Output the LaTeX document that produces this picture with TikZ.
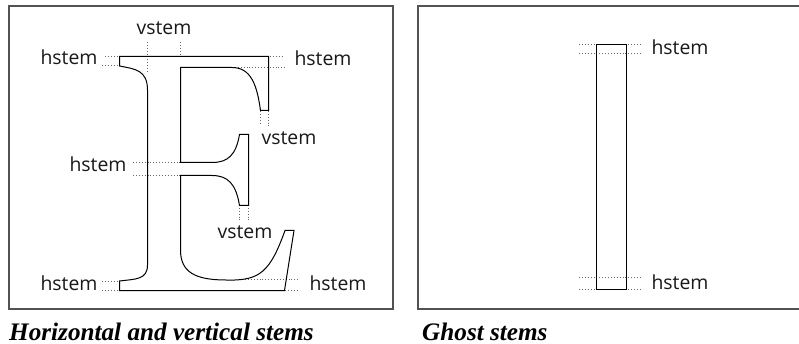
\documentclass[tikz,border=0pt]{standalone}
\usepackage{fontspec}
\setmainfont{Liberation Serif}
\newfontfamily\lblfont{Open Sans}
\begin{document}
\begin{tikzpicture}[x=1pt,y=-1pt,
  frame/.style={draw=black!68,line width=1.3pt},
  glyph/.style={draw=black,line width=1pt,line join=miter},
  guide/.style={draw=black!60,line width=0.55pt,dash pattern=on 0.9pt off 2pt},
  lbl/.style={font=\lblfont\fontsize{19.4}{22}\selectfont,text=black!90,inner sep=0pt,anchor=base},
  captext/.style={font=\bfseries\itshape\fontsize{25.2}{28}\selectfont,text=black,inner sep=0pt,anchor=base west}]
\useasboundingbox (0,0) rectangle (799,344);
\fill[white] (0,0) rectangle (799,344);
\draw[frame] (9,6) rectangle (393,309);
\draw[frame] (799,6) -- (418,6) -- (418,309) -- (799,309);
% guides, left panel
\draw[guide] (105,56) -- (119,56);
\draw[guide] (102,65) -- (119,65);
\draw[guide] (147.5,42) -- (147.5,73);
\draw[guide] (180.5,42) -- (180.5,56);
\draw[guide] (270,56) -- (283,56);
\draw[guide] (232,67) -- (285,67);
\draw[guide] (260.5,111) -- (260.5,124);
\draw[guide] (268.5,111) -- (268.5,127);
\draw[guide] (133,162.5) -- (181,162.5);
\draw[guide] (133,175) -- (181,175);
\draw[guide] (239.5,205) -- (239.5,222);
\draw[guide] (248.5,205) -- (248.5,222);
\draw[guide] (102,281) -- (119,281);
\draw[guide] (102,290) -- (119,290);
\draw[guide] (245,279) -- (300,279);
\draw[guide] (285,290.5) -- (298,290.5);
% E glyph
\draw[glyph] (119.5,56.5) -- (268.5,56.5) -- (268.5,110.5) -- (260.5,110.5)
  .. controls (257,85) and (251,67.5) .. (232,67.5) -- (180.5,67.5) -- (180.5,162.5)
  -- (212,162.5) .. controls (228,162.5) and (236,155) .. (239.5,134.5) -- (248.5,134.5) -- (248.5,205.5) -- (239.5,205.5)
  .. controls (236,184) and (228,175.5) .. (212,175.5) -- (180.5,175.5) -- (180.5,250)
  .. controls (180.5,272) and (195,280) .. (226,280)
  .. controls (260,281) and (270,272) .. (285,230.5) -- (294,230.5) -- (284.5,290.5) -- (119.5,290.5) -- (119.5,281)
  .. controls (135,279) and (147.5,280) .. (147.5,265) -- (147.5,90)
  .. controls (147.5,70) and (135,69) .. (119.5,66) -- cycle;
% right panel
\draw[guide] (579,44) -- (640,44);
\draw[guide] (579,53.5) -- (640,53.5);
\draw[guide] (579,277.5) -- (640,277.5);
\draw[guide] (579,289) -- (640,289);
\draw[glyph] (596.5,44.5) rectangle (626.5,289.5);
% labels
\node[lbl] (a) at (69,65) {hstem};
\node[lbl] (b) at (164,35) {vstem};
\node[lbl] (c) at (323,66) {hstem};
\node[lbl] (d) at (289,145) {vstem};
\node[lbl] (e) at (98,172) {hstem};
\node[lbl] (f) at (245,239) {vstem};
\node[lbl] (g) at (69,290) {hstem};
\node[lbl] (h) at (338,290) {hstem};
\node[lbl] (i) at (680,55) {hstem};
\node[lbl] (j) at (680,289) {hstem};
\node[captext] (k) at (9,340) {Horizontal and vertical stems};
\node[captext] (l) at (422,340) {Ghost stems};
\end{tikzpicture}
\end{document}
